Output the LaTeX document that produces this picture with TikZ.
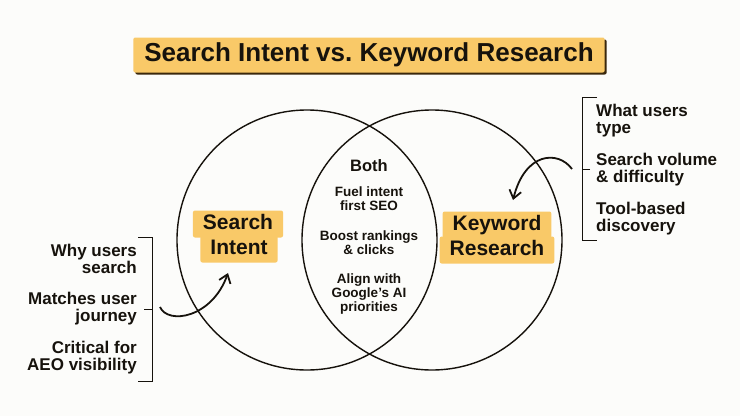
\documentclass[tikz,border=0pt]{standalone}
\usepackage{fontspec}
\setmainfont{Liberation Sans}
\usetikzlibrary{arrows.meta,shadows}
\definecolor{hilite}{RGB}{249,201,104}
\definecolor{shade}{RGB}{58,40,12}
\definecolor{ink}{RGB}{22,18,12}
\definecolor{paper}{RGB}{252,252,250}
\begin{document}
\begin{tikzpicture}[x=1pt,y=-1pt,
  every node/.style={text=ink},
  heading/.style={fill=hilite, rounded corners=2pt, inner xsep=11pt, minimum height=35pt,
    font=\fontsize{26}{26}\selectfont\bfseries,
    drop shadow={shadow xshift=2pt, shadow yshift=-2pt, fill=shade, opacity=1}},
  tag/.style={fill=hilite, rounded corners=2pt, inner xsep=10pt, inner ysep=4pt,
    text height=15pt, text depth=4pt, font=\fontsize{21}{21}\selectfont\bfseries},
  note/.style={inner sep=0pt, font=\fontsize{17}{17}\selectfont\bfseries},
  shared/.style={align=center, inner sep=0pt, font=\fontsize{13.5}{14}\selectfont\bfseries},
  bracket/.style={line width=1pt, draw=ink},
  ring/.style={line width=1.4pt, draw=ink},
  pointer/.style={line width=1.8pt, draw=ink, -{Straight Barb[length=8pt,width=12pt]}}]
  \fill[paper] (0,0) rectangle (740,416);
  \useasboundingbox (0,0) rectangle (740,416);

  \draw[ring] (307,240) circle[radius=130pt];
  \draw[ring] (432,240) circle[radius=130pt];

  \node[heading] (title) at (369,55) {Search Intent vs.\ Keyword Research};

  \node[tag] (intentB) at (239,249) {Intent};
  \node[tag] (intentA) at (238,224) {Search};
  \node[tag] (keywordB) at (497,250) {Research};
  \node[tag] (keywordA) at (497,225) {Keyword};

  \node[inner sep=0pt, font=\fontsize{16.5}{16.5}\selectfont\bfseries] (both) at (369,166) {Both};
  \node[shared] (fuel) at (369,199) {Fuel intent\\first SEO};
  \node[shared] (boost) at (369,243) {Boost rankings\\\& clicks};
  \node[shared] (priorities) at (369,294) {Align with\\Google’s AI\\priorities};

  \node[note, align=right, anchor=east] (why) at (137,259) {Why users\\search};
  \node[note, align=right, anchor=east] (journey) at (137,309) {Matches user\\journey};
  \node[note, align=right, anchor=east] (aeo) at (137,358) {Critical for\\AEO visibility};

  \node[note, align=left, anchor=west] (types) at (596,121) {What users\\type};
  \node[note, align=left, anchor=west] (volume) at (596,170) {Search volume\\\& difficulty};
  \node[note, align=left, anchor=west] (tools) at (596,219) {Tool-based\\discovery};

  \coordinate (ltop) at (138,237);
  \coordinate (lbot) at (138,381);
  \coordinate (lmid) at (144,309);
  \coordinate (rtop) at (597,97);
  \coordinate (rbot) at (597,240);
  \coordinate (rmid) at (590,169);
  \draw[bracket] (ltop) -| (152,381) -- (lbot);
  \draw[bracket] (lmid) -- (152,309);
  \draw[bracket] (rtop) -| (582,240) -- (rbot);
  \draw[bracket] (rmid) -- (582,169);

  \coordinate (lstart) at (160,307);
  \coordinate (lend) at (228,273);
  \coordinate (rstart) at (572,169);
  \coordinate (rend) at (513,200);
  \draw[pointer] (lstart) .. controls (168,325) and (212,318) .. (lend);
  \draw[pointer] (rstart) .. controls (558,150) and (525,152) .. (rend);
\end{tikzpicture}
\end{document}
